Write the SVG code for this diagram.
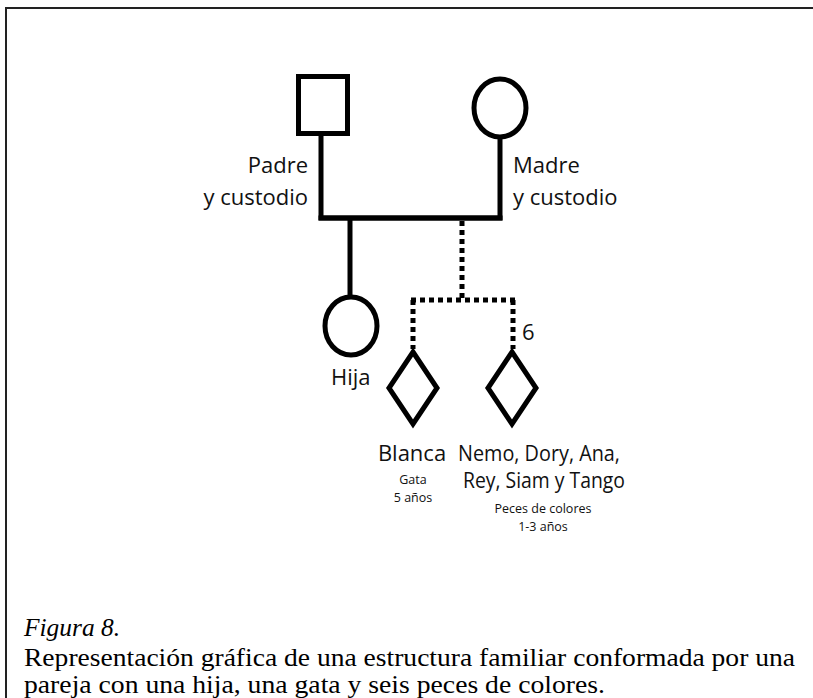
<svg xmlns="http://www.w3.org/2000/svg" width="813" height="698" viewBox="0 0 813 698">
<style>
.sym{fill:#fff;stroke:#000;stroke-width:5}
.ln{fill:none;stroke:#000;stroke-width:5}
.dot{fill:none;stroke:#000;stroke-width:5;stroke-dasharray:5 4}
.lbl{font-family:"Open Sans","Noto Sans",sans-serif;font-size:22px;fill:#111}
.sm{font-family:"Open Sans","Noto Sans",sans-serif;font-size:12.5px;fill:#111;text-anchor:middle}
.cap{font-family:"Liberation Serif","Times New Roman",serif;font-size:26px;fill:#000}
</style>
<rect x="6" y="8" width="830" height="720" fill="#fff" stroke="#222" stroke-width="2"/>
<g id="connectors">
<polyline class="ln" points="321,134 321,218 500,218 500,137"/>
<line class="ln" x1="318.5" y1="218" x2="502.5" y2="218"/>
<line class="ln" x1="350" y1="218" x2="350" y2="296"/>
<line class="dot" x1="462" y1="221" x2="462" y2="300"/>
<line class="dot" x1="411" y1="300" x2="516" y2="300"/>
<line class="dot" x1="413" y1="300" x2="413" y2="349"/>
<line class="dot" x1="513" y1="300" x2="513" y2="349"/>
</g>
<g id="padre">
<rect class="sym" x="298.5" y="76.5" width="49" height="57"/>
<text class="lbl" x="308" y="173" text-anchor="end">Padre</text>
<text class="lbl" x="308" y="205" text-anchor="end">y custodio</text>
</g>
<g id="madre">
<ellipse class="sym" cx="500" cy="108" rx="26" ry="29"/>
<text class="lbl" x="513" y="173">Madre</text>
<text class="lbl" x="513" y="205">y custodio</text>
</g>
<g id="hija">
<ellipse class="sym" cx="351" cy="326" rx="26" ry="29"/>
<text class="lbl" x="331" y="385">Hija</text>
</g>
<g id="blanca">
<polygon class="sym" points="413,352 437,388 413,424 389,388"/>
<text class="lbl" x="412" y="461" text-anchor="middle" font-size="24">Blanca</text>
<text class="sm" x="413" y="484">Gata</text>
<text class="sm" x="413" y="502">5 años</text>
</g>
<g id="peces">
<polygon class="sym" points="512,352 536,388 512,424 488,388"/>
<text class="lbl" x="522" y="340">6</text>
<text class="lbl" x="458" y="461" textLength="162" lengthAdjust="spacingAndGlyphs">Nemo, Dory, Ana,</text>
<text class="lbl" x="463" y="488" textLength="162" lengthAdjust="spacingAndGlyphs">Rey, Siam y Tango</text>
<text class="sm" x="543" y="513">Peces de colores</text>
<text class="sm" x="543" y="531">1-3 años</text>
</g>
<g id="caption">
<text class="cap" x="24" y="636" font-style="italic" textLength="96" lengthAdjust="spacingAndGlyphs">Figura 8.</text>
<text class="cap" x="24" y="666" textLength="771" lengthAdjust="spacingAndGlyphs">Representación gráfica de una estructura familiar conformada por una</text>
<text class="cap" x="24" y="693" textLength="581" lengthAdjust="spacingAndGlyphs">pareja con una hija, una gata y seis peces de colores.</text>
</g>
</svg>
